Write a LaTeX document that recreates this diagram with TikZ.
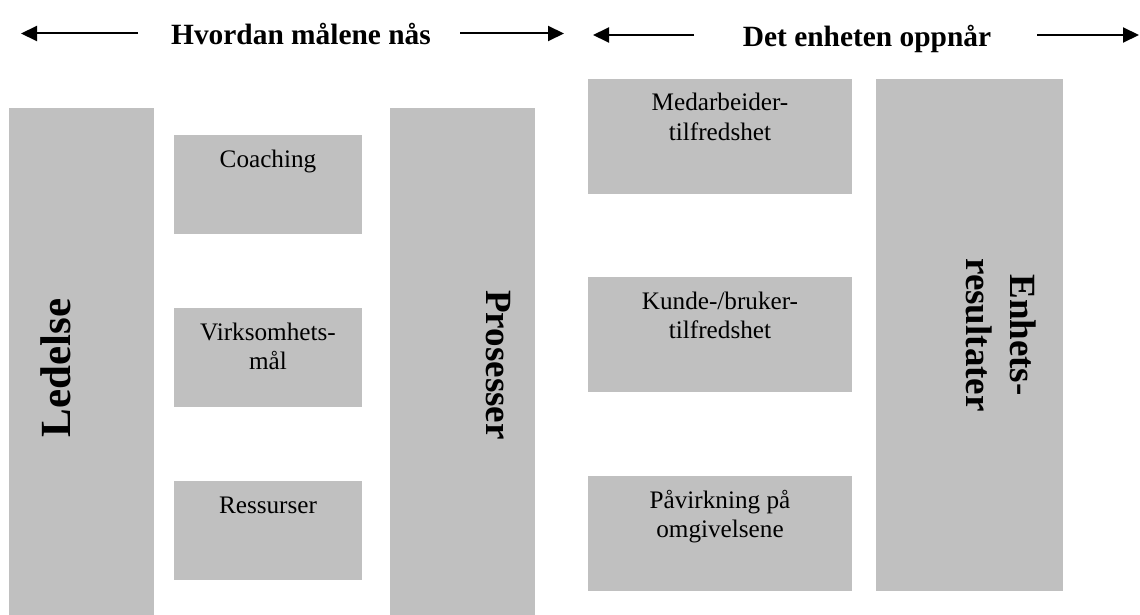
\documentclass[tikz,border=0pt]{standalone}
\usepackage{fontspec}
\setmainfont{Liberation Serif}
\usetikzlibrary{arrows.meta}
\definecolor{boxgrey}{RGB}{192,192,192}
\begin{document}
\begin{tikzpicture}[x=1pt,y=-1pt,
  panel/.style={fill=boxgrey, draw=none, inner sep=0pt, outer sep=0pt, anchor=north west},
  boxtext/.style={font=\fontsize{25.2}{29}\selectfont, align=center, inner sep=0pt, anchor=base},
  heading/.style={font=\fontsize{29.4}{34}\selectfont\bfseries, inner sep=0pt, anchor=base},
  sidetitle/.style={font=\fontsize{37}{44}\selectfont\bfseries, inner sep=0pt, align=center},
  span/.style={line width=2pt, -{Triangle[length=16pt,width=15pt]}}
]
\useasboundingbox (0,0) rectangle (1140,615);

% headings with their span arrows
\node[heading] (howT) at (301,45) {Hvordan målene nås};
\node[heading] (whatT) at (867,47) {Det enheten oppnår};
\coordinate (howLa) at (138,33.5);
\coordinate (howLb) at (21,33.5);
\coordinate (howRa) at (460,33.5);
\coordinate (howRb) at (564,33.5);
\coordinate (whatLa) at (694,35);
\coordinate (whatLb) at (593,35);
\coordinate (whatRa) at (1037,35);
\coordinate (whatRb) at (1139,35);
\draw[span] (howLa) -- (howLb);
\draw[span] (howRa) -- (howRb);
\draw[span] (whatLa) -- (whatLb);
\draw[span] (whatRa) -- (whatRb);

% tall columns
\node[panel, minimum width=145pt, minimum height=507pt] (ledelse) at (9,108) {};
\node[panel, minimum width=145pt, minimum height=507pt] (prosesser) at (390,108) {};
\node[panel, minimum width=187pt, minimum height=512pt] (enhets) at (876,79) {};

% enablers
\node[panel, minimum width=188pt, minimum height=99pt] (coaching) at (174,135) {};
\node[panel, minimum width=188pt, minimum height=99pt] (virksomhet) at (174,308) {};
\node[panel, minimum width=188pt, minimum height=99pt] (ressurser) at (174,481) {};

% results
\node[panel, minimum width=264pt, minimum height=115pt] (medarbeider) at (588,79) {};
\node[panel, minimum width=264pt, minimum height=115pt] (kunde) at (588,277) {};
\node[panel, minimum width=264pt, minimum height=115pt] (pavirkning) at (588,476) {};

% box captions (base anchor of a two-line caption sits on its last line)
\node[boxtext] (coachingT) at ([yshift=-32pt]coaching.north) {Coaching};
\node[boxtext] (virksomhetT) at ([yshift=-61pt]virksomhet.north) {Virksomhets-\\mål};
\node[boxtext] (ressurserT) at ([yshift=-32pt]ressurser.north) {Ressurser};
\node[boxtext] (medarbeiderT) at ([yshift=-61pt]medarbeider.north) {Medarbeider-\\tilfredshet};
\node[boxtext] (kundeT) at ([yshift=-61pt]kunde.north) {Kunde-/bruker-\\tilfredshet};
\node[boxtext] (pavirkningT) at ([yshift=-61pt]pavirkning.north) {Påvirkning på\\omgivelsene};

% rotated column titles
\node[sidetitle, font=\fontsize{43}{50}\selectfont\bfseries, rotate=90] (ledelseT) at (56,368) {Ledelse};
\node[sidetitle, rotate=-90] (prosesserT) at (498,365) {Prosesser};
\node[sidetitle, rotate=-90] (enhetsT) at (1001,335) {Enhets-\\resultater};
\end{tikzpicture}
\end{document}
